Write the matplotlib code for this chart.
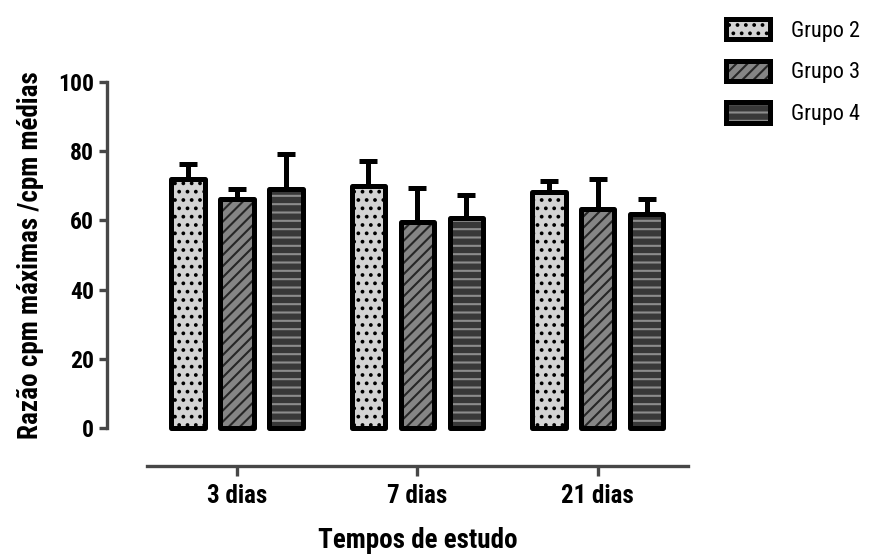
import numpy as np
import matplotlib
matplotlib.use("Agg")
import matplotlib.pyplot as plt
from matplotlib.patches import Patch
from matplotlib.legend_handler import HandlerTuple
from matplotlib import font_manager

categorias = ["3 dias", "7 dias", "21 dias"]
grupos = ["Grupo 2", "Grupo 3", "Grupo 4"]
medias = {
    "Grupo 2": [72.0, 70.0, 68.1],
    "Grupo 3": [66.2, 59.4, 63.2],
    "Grupo 4": [69.1, 60.6, 61.7],
}
erros = {
    "Grupo 2": [4.2, 7.1, 3.2],
    "Grupo 3": [2.8, 9.9, 8.7],
    "Grupo 4": [10.0, 6.6, 4.4],
}

# condensed face if one is around
nomes = {f.name for f in font_manager.fontManager.ttflist}
fonte = "DejaVu Sans"
for cand in ["Roboto Condensed", "Liberation Sans Narrow", "DejaVu Sans Condensed"]:
    if cand in nomes:
        fonte = cand
        break
plt.rcParams["font.family"] = [fonte, "DejaVu Sans"]
plt.rcParams["hatch.linewidth"] = 1.5

estilos = {
    "Grupo 2": dict(face="#d4d4d4", hatch="..", hcor="black"),
    "Grupo 3": dict(face="#858585", hatch="///", hcor="#262626"),
    "Grupo 4": dict(face="#383838", hatch="--", hcor="#8c8c8c"),
}
cinza = "#474747"

fig = plt.figure(figsize=(8.69, 5.56), dpi=100)
ax = fig.add_axes([107 / 869, 1 - 466 / 556, (688 - 107) / 869, (466 - 82) / 556])

x = np.arange(len(categorias))
desloc = 0.271
larg = 0.185
handles = []
for k, g in enumerate(grupos):
    st = estilos[g]
    pos = x + (k - 1) * desloc
    ax.bar(pos, medias[g], larg, color=st["face"], hatch=st["hatch"],
           edgecolor=st["hcor"], linewidth=0, zorder=2)
    ax.bar(pos, medias[g], larg, facecolor="none", edgecolor="black",
           linewidth=3.6, joinstyle="round", zorder=3)
    ax.errorbar(pos, medias[g], yerr=[np.zeros(3), erros[g]], fmt="none",
                ecolor="black", elinewidth=3.6, capsize=6.8, capthick=3.6,
                zorder=1)
    handles.append((Patch(facecolor=st["face"], hatch=st["hatch"],
                          edgecolor=st["hcor"], linewidth=0),
                    Patch(facecolor="none", edgecolor="black", linewidth=3.6,
                          joinstyle="round")))

ax.set_xlim(-0.72, 2.5)
ax.set_ylim(-11, 100)
for s in ["top", "right"]:
    ax.spines[s].set_visible(False)
ax.spines["left"].set_bounds(0, 100)
ax.spines["bottom"].set_bounds(-0.5, 2.5)
for s in ["left", "bottom"]:
    ax.spines[s].set_color(cinza)
    ax.spines[s].set_linewidth(2.4)

ax.set_yticks(np.arange(0, 101, 20))
ax.set_xticks(x)
ax.set_xticklabels(categorias)
ax.tick_params(axis="y", length=6, width=2.4, color=cinza, pad=3.5,
               labelsize=17)
ax.tick_params(axis="x", length=7, width=2.4, color=cinza, pad=6,
               labelsize=18)
for t in ax.get_xticklabels() + ax.get_yticklabels():
    t.set_fontweight("bold")

ax.set_xlabel("Tempos de estudo", fontsize=19.5, fontweight="bold")
ax.xaxis.set_label_coords(0.535, -0.16)
ax.set_ylabel("Razão cpm máximas /cpm médias", fontsize=19.5, fontweight="bold")
ax.yaxis.set_label_coords(-0.108, 0.55)

fig.legend(handles, grupos, handler_map={tuple: HandlerTuple(ndivide=1)},
           loc="upper left", bbox_to_anchor=(708 / 869, 1 - 1 / 556),
           frameon=False, fontsize=16, handlelength=2.0, handleheight=1.05,
           labelspacing=0.85, handletextpad=0.95, borderpad=0.3)

fig.savefig("out.png", dpi=100)
